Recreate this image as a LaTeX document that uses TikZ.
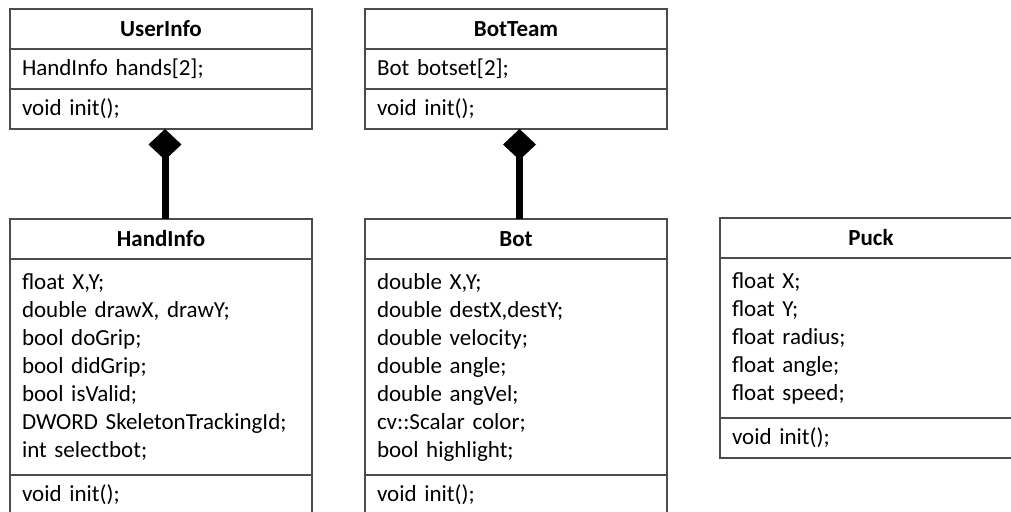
\documentclass[tikz,border=0pt]{standalone}
\usepackage{fontspec}
\setmainfont{Carlito}
\usetikzlibrary{positioning}
\usetikzlibrary{arrows.meta}

\begin{document}
\begin{tikzpicture}[x=1pt,y=-1pt,
    font={\fontsize{23}{28}\selectfont},
    box/.style={draw=black!70, line width=1.3pt, outer sep=0pt,
        inner xsep=12pt, inner ysep=0pt, text width=278pt},
    head/.style={box, minimum height=40pt, align=center,
        font={\fontsize{23}{28}\selectfont\bfseries}},
    members/.style={box, align=left},
    has/.style={line width=7pt,
        -{Diamond[length=31pt,width=33pt,line width=0pt]}}]

        \useasboundingbox (0,0) rectangle (1011,511);

        % one class per entry: name/x/y/title/height of attributes/attributes
        \foreach \n/\x/\y/\t/\h/\a in {
        userinfo/10/9/UserInfo/40/{HandInfo hands[2];},
        botteam/365/9/BotTeam/40/{Bot botset[2];},
        handinfo/10/219/HandInfo/216/{float X,Y;\\ double drawX, drawY;\\
            bool doGrip;\\ bool didGrip;\\ bool isValid;\\
            DWORD SkeletonTrackingId;\\ int selectbot;},
        bot/365/219/Bot/216/{double X,Y;\\ double destX,destY;\\
            double velocity;\\ double angle;\\ double angVel;\\
            cv::Scalar color;\\ bool highlight;},
        puck/720/218/Puck/160/{float X;\\ float Y;\\ float radius;\\
            float angle;\\ float speed;}} {
        \node[head, anchor=north west] (\n) at (\x,\y) {\t};
        \node[members, minimum height=\h, below=0pt of \n] (\n-a) {\a};
        \node[members, minimum height=40, below=0pt of \n-a] (\n-m)
            {void init();};
        }

        \draw[has] ([xshift=4pt]handinfo.north) -- ([xshift=4pt]userinfo-m.south);
        \draw[has] ([xshift=3.5pt]bot.north) -- ([xshift=3.5pt]botteam-m.south);
    \end{tikzpicture}
\end{document}
